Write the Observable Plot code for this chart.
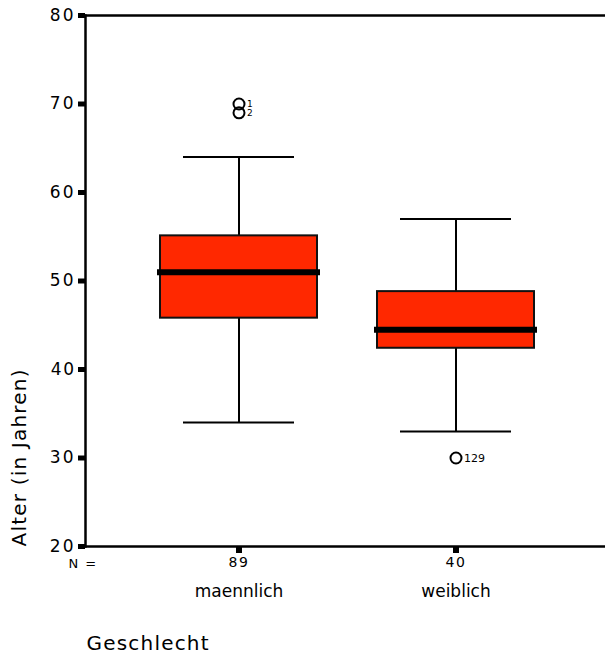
<!DOCTYPE html>
<html>
<head>
<meta charset="utf-8">
<script src="https://cdn.jsdelivr.net/npm/d3@7"></script>
<script src="https://cdn.jsdelivr.net/npm/@observablehq/plot@0.6"></script>
<style>
  body { margin: 0; background: #fff; }
  #chart svg { display: block; }
</style>
</head>
<body>
<div id="chart"></div>
<script>
// ---- data ----
const categories   = ["maennlich", "weiblich"];
const counts       = [89, 40];
const whiskerLow   = [34, 33];
const q1           = [45.8, 42.4];
const medians      = [51, 44.5];
const q3           = [55.1, 48.8];
const whiskerHigh  = [64, 57];
const outlierGroup = ["maennlich", "maennlich", "weiblich"];
const outlierValue = [70, 69, 30];
const outlierLabel = ["1", "2", "129"];
const yTicks       = [20, 30, 40, 50, 60, 70, 80];

const boxes = categories.map((c, i) => ({
  cat: c, n: counts[i], lo: whiskerLow[i], q1: q1[i], med: medians[i], q3: q3[i], hi: whiskerHigh[i]
}));
const outliers = outlierValue.map((v, i) => ({cat: outlierGroup[i], v, label: outlierLabel[i]}));

const chart = Plot.plot({
  width: 605,
  height: 656,
  marginTop: 15,
  marginBottom: 110,
  marginLeft: 85,
  marginRight: 0,
  style: {fontFamily: "DejaVu Sans", color: "black", background: "white"},
  x: {type: "band", domain: categories, range: [129.5, 563.5], padding: 0, axis: null},
  y: {domain: [20, 80], axis: null},
  marks: [
    // whiskers
    Plot.ruleX(boxes, {x: "cat", y1: "lo", y2: "hi", stroke: "black", strokeWidth: 2}),
    Plot.tickY(boxes, {x: "cat", y: "hi", stroke: "black", strokeWidth: 2, insetLeft: 53, insetRight: 53}),
    Plot.tickY(boxes, {x: "cat", y: "lo", stroke: "black", strokeWidth: 2, insetLeft: 53, insetRight: 53}),
    // boxes
    Plot.barY(boxes, {x: "cat", y1: "q1", y2: "q3", fill: "#ff2800", stroke: "#111", strokeWidth: 2, insetLeft: 30, insetRight: 30}),
    // medians
    Plot.tickY(boxes, {x: "cat", y: "med", stroke: "black", strokeWidth: 6, insetLeft: 27, insetRight: 27}),
    // outliers
    Plot.dot(outliers, {x: "cat", y: "v", r: 5.5, stroke: "black", strokeWidth: 2, fill: "none"}),
    Plot.text(outliers, {filter: d => d.cat === categories[0], x: "cat", y: "v", text: "label", dx: 8, textAnchor: "start", fontSize: 9}),
    Plot.text(outliers, {filter: d => d.cat === categories[1], x: "cat", y: "v", text: "label", dx: 8, textAnchor: "start", fontSize: 11}),
    // frame
    Plot.ruleY([20, 80], {stroke: "black", strokeWidth: 2.5}),
    Plot.frame({anchor: "left", stroke: "black", strokeWidth: 2.5}),
    // y axis
    Plot.axisY(yTicks, {tickSize: 7, strokeWidth: 5, tickPadding: 3, fontSize: 17, label: null}),
    Plot.text(["Alter (in Jahren)"], {frameAnchor: "bottom-left", rotate: -90, dx: -66, textAnchor: "start", lineAnchor: "middle", fontSize: 20}),
    // x axis
    Plot.axisX({tickSize: 7, strokeWidth: 6, tickFormat: () => "", label: null}),
    Plot.text(boxes, {x: "cat", text: "n", frameAnchor: "bottom", lineAnchor: "middle", dy: 16, fontSize: 14}),
    Plot.axisX({tickSize: 0, tickPadding: 38, fontSize: 17, label: null}),
    Plot.text(["N ="], {frameAnchor: "bottom-left", dx: -17, dy: 17, textAnchor: "start", lineAnchor: "middle", fontSize: 13}),
    Plot.text(["Geschlecht"], {frameAnchor: "bottom-left", dx: 1, dy: 103, textAnchor: "start", fontSize: 20})
  ]
});

// letter spacing (style only)
const spacing = {"Alter (in Jahren)": "1.2px", "Geschlecht": "1.2px", "N =": "1.5px"};
yTicks.forEach(t => spacing[String(t)] = "2px");
counts.forEach(n => spacing[String(n)] = "1.5px");
chart.querySelectorAll("text").forEach(t => {
  const s = spacing[t.textContent];
  if (s) t.style.letterSpacing = s;
});
document.getElementById("chart").append(chart);
</script>
</body>
</html>
